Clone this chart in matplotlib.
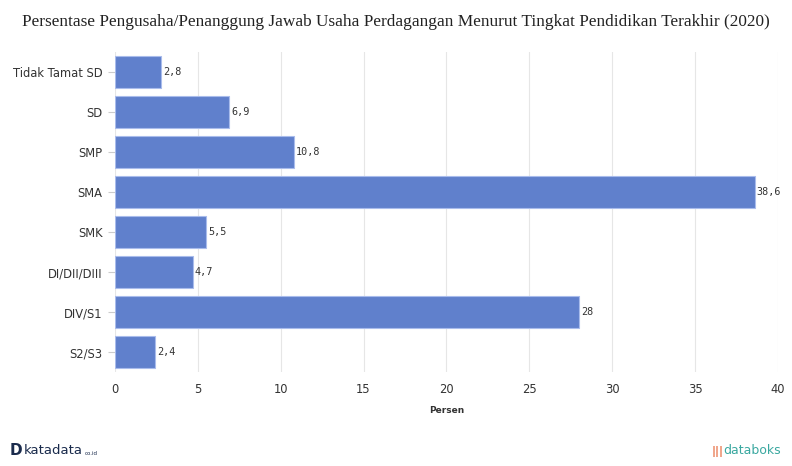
import matplotlib.pyplot as plt

# data
categories = ["Tidak Tamat SD", "SD", "SMP", "SMA", "SMK", "DI/DII/DIII", "DIV/S1", "S2/S3"]
values = [2.8, 6.9, 10.8, 38.6, 5.5, 4.7, 28, 2.4]
labels = ["2,8", "6,9", "10,8", "38,6", "5,5", "4,7", "28", "2,4"]
xticks = [0, 5, 10, 15, 20, 25, 30, 35, 40]

fig = plt.figure(figsize=(7.92, 4.66), dpi=100)
ax = fig.add_axes([0.1452, 0.2017, 0.837, 0.6866])

y = list(range(len(categories)))
ax.barh(y, values, height=0.8, color="#6080cc", edgecolor="#a9bcec", linewidth=0.8, zorder=3)
for yi, v, lab in zip(y, values, labels):
    ax.text(v + 0.12, yi, lab, va="center", ha="left", fontsize=7.3, color="#333333",
            family="DejaVu Sans Mono")

ax.set_ylim(len(categories) - 0.5, -0.5)
ax.set_xlim(0, 40)
ax.set_yticks(y)
ax.set_yticklabels(categories, fontsize=8.3, color="#333333")
ax.set_xticks(xticks)
ax.set_xticklabels([str(t) for t in xticks], fontsize=8.3, color="#333333")
ax.tick_params(axis="y", length=5, color="#cccccc", pad=4)
ax.tick_params(axis="x", length=0, pad=8)
ax.grid(axis="x", color="#e6e6e6", linewidth=0.8, zorder=0)
for s in ax.spines.values():
    s.set_visible(False)
ax.set_xlabel("Persen", fontsize=6.5, fontweight="bold", color="#333333", labelpad=7)

fig.text(0.5, 0.952, "Persentase Pengusaha/Penanggung Jawab Usaha Perdagangan Menurut Tingkat Pendidikan Terakhir (2020)",
         ha="center", va="center", fontsize=12.4, family="Liberation Serif", color="#222222")

fig.text(0.012, 0.018, "D", fontsize=11, fontweight="bold", color="#1a2b4c", va="bottom")
fig.text(0.03, 0.02, "katadata", fontsize=9.5, color="#1a2b4c", va="bottom")
fig.text(0.107, 0.021, "co.id", fontsize=4, color="#1a2b4c", va="bottom")
fig.text(0.898, 0.02, "|||", fontsize=8, fontweight="bold", color="#e8734a", va="bottom")
fig.text(0.913, 0.02, "databoks", fontsize=9, color="#3aa8a0", va="bottom")

fig.savefig("out.png", dpi=100)
